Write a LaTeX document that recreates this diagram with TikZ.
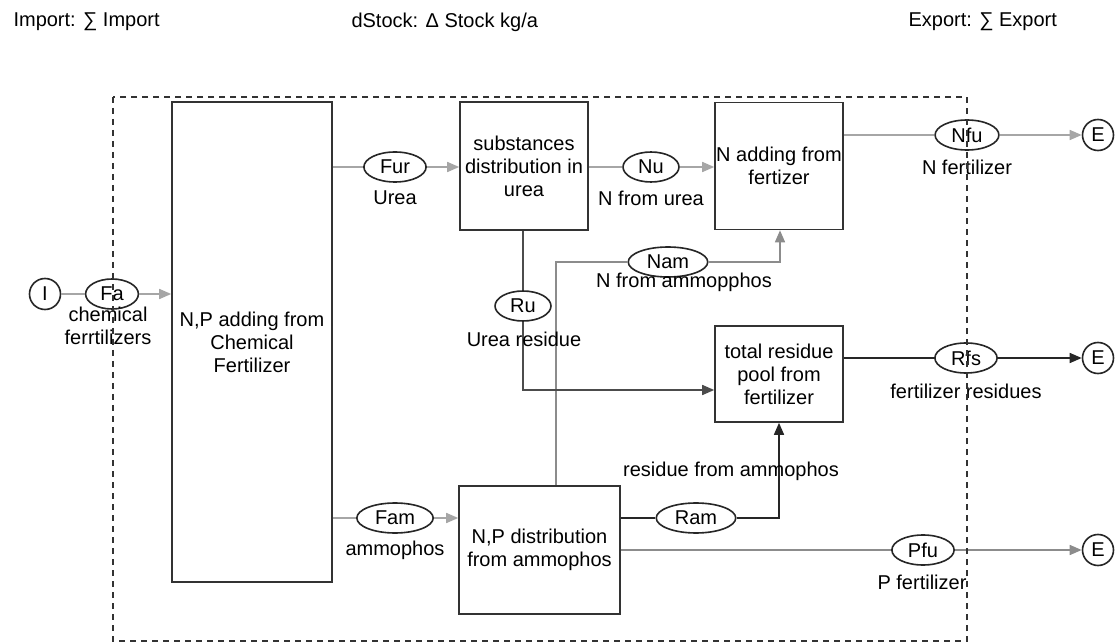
\documentclass[tikz,border=0pt]{standalone}
\usepackage{fontspec}
\setmainfont{Liberation Sans}
\usetikzlibrary{arrows.meta,shapes.geometric}

\begin{document}
\begin{tikzpicture}[
    x=1pt, y=-1pt,
    every node/.style={
        font=\fontsize{20}{23}\selectfont,
        align=center,
    },
    blk/.style={draw=black!80, line width=1.6pt, fill=white, inner sep=0pt},
    flw/.style={draw=black!85, ellipse, line width=1.6pt, fill=white,
        inner xsep=7pt, inner ysep=0pt, minimum height=30pt},
    ext/.style={draw=black!85, circle, line width=1.6pt, fill=white,
        inner sep=0pt, minimum size=31pt},
    gline/.style={draw=black!35, line width=1.5pt},
    mline/.style={draw=black!45, line width=1.5pt},
    dline/.style={draw=black!70, line width=1.5pt},
    kline/.style={draw=black!85, line width=1.5pt},
    tip/.style={-{Triangle[length=12pt,width=10pt]}},
]
    \useasboundingbox (0,0) rectangle (1117,644);
    \fill[white] (0,0) rectangle (1117,644);

    \node[anchor=west] (imp) at (10,22) {Import: ∑ Import};
    \node[anchor=west] (dstock) at (348,22) {dStock: Δ Stock kg/a};
    \node[anchor=west] (exp) at (905,22) {Export: ∑ Export};

    % processes
    \node[blk, minimum width=160pt, minimum height=480pt] (addchem) at (252,342) {N,P adding from\\Chemical\\Fertilizer};
    \node[blk, minimum width=128pt, minimum height=128pt] (disturea) at (524,166) {substances\\distribution in\\urea};
    \node[blk, minimum width=128pt, minimum height=127pt] (addN) at (779,166) {N adding from\\fertizer};
    \node[blk, minimum width=128pt, minimum height=96pt] (respool) at (779,374) {total residue\\pool from\\fertilizer};
    \node[blk, minimum width=161pt, minimum height=128pt] (distamm) at (539.5,550) {N,P distribution\\from ammophos};

    \node[ext] (imI) at (45,294) {I};
    \node[ext] (exN) at (1098,135) {E};
    \node[ext] (exR) at (1098,358) {E};
    \node[ext] (exP) at (1098,550) {E};

    % flows
    \node[flw] (Fa) at (112,294) {Fa};
    \node[flw] (Fur) at (395,167) {Fur};
    \node[flw] (Nu) at (651,167) {Nu};
    \node[flw] (Nfu) at (967,135) {Nfu};
    \node[flw] (Nam) at (668,262) {Nam};
    \node[flw] (Ru) at (523,306) {Ru};
    \node[flw] (Rfs) at (966,358) {Rfs};
    \node[flw] (Fam) at (395,518) {Fam};
    \node[flw] (Ram) at (696,518) {Ram};
    \node[flw] (Pfu) at (923,550) {Pfu};

    \coordinate (namL) at (556,262);
    \coordinate (namR) at (780,262);
    \coordinate (ruC) at (523,390);
    \coordinate (ramC) at (779,518);

    \draw[gline] (imI) -- (Fa);
    \draw[gline,tip] (Fa) -- (Fa -| addchem.west);
    \draw[gline] (addchem.east |- Fur) -- (Fur);
    \draw[gline,tip] (Fur) -- (Fur -| disturea.west);
    \draw[gline] (disturea.east |- Nu) -- (Nu);
    \draw[gline,tip] (Nu) -- (Nu -| addN.west);
    \draw[gline] (addN.east |- Nfu) -- (Nfu);
    \draw[gline,tip] (Nfu) -- (exN);
    \draw[mline] (namL |- distamm.north) -- (namL) -- (Nam);
    \draw[mline,tip] (Nam) -- (namR) -- (namR |- addN.south);
    \draw[dline] (ruC |- disturea.south) -- (Ru);
    \draw[dline,tip] (Ru) -- (ruC) -- (ruC -| respool.west);
    \draw[kline] (respool.east |- Rfs) -- (Rfs);
    \draw[kline,tip] (Rfs) -- (exR);
    \draw[gline] (addchem.east |- Fam) -- (Fam);
    \draw[gline,tip] (Fam) -- (Fam -| distamm.west);
    \draw[kline] (distamm.east |- Ram) -- (Ram);
    \draw[kline,tip] (Ram) -- (ramC) -- (ramC |- respool.south);
    \draw[mline] (distamm.east |- Pfu) -- (Pfu);
    \draw[mline,tip] (Pfu) -- (exP);

    \node (lbFa) at (108,326) {chemical\\ferrtilizers};
    \node (lbFur) at (395,198) {Urea};
    \node (lbNu) at (651,198) {N from urea};
    \node (lbNfu) at (967,167) {N fertilizer};
    \node (lbNam) at (684,282) {N from ammopphos};
    \node (lbRu) at (524,339) {Urea residue};
    \node (lbRfs) at (966,391) {fertilizer residues};
    \node (lbFam) at (395,550) {ammophos};
    \node (lbRam) at (731,471) {residue from ammophos};
    \node (lbPfu) at (922,582) {P fertilizer};

    \draw[black!80, line width=1.5pt, dash pattern=on 6pt off 5pt] (113,97) rectangle (967,641);
\end{tikzpicture}
\end{document}
